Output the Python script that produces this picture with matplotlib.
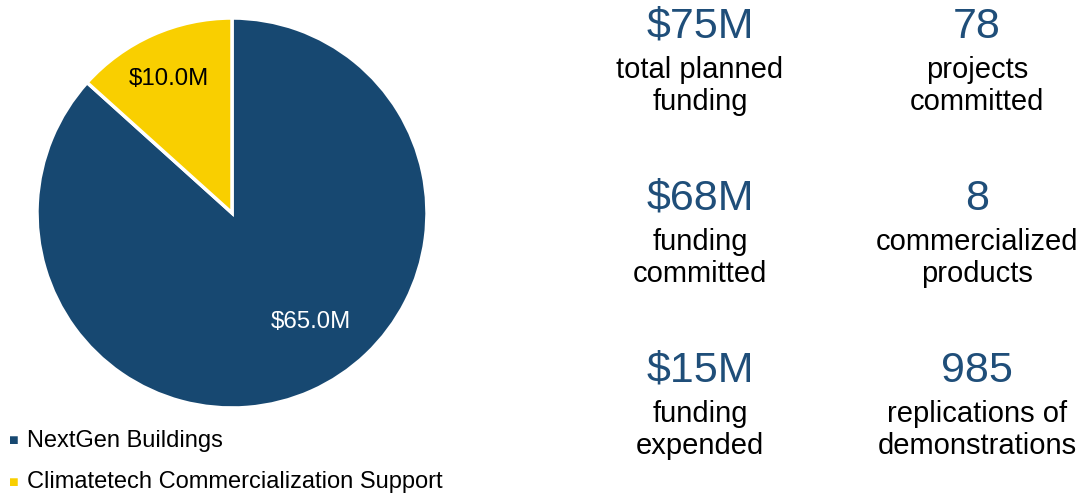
import matplotlib.pyplot as plt
import numpy as np

plt.rcParams['font.family'] = ['Liberation Sans', 'DejaVu Sans']

programs = ['NextGen Buildings', 'Climatetech Commercialization Support']
funding = [65.0, 10.0]
colors = ['#174871', '#f9cf00']

stat_values = ['$75M', '78', '$68M', '8', '$15M', '985']
stat_labels = ['total planned\nfunding', 'projects\ncommitted',
               'funding\ncommitted', 'commercialized\nproducts',
               'funding\nexpended', 'replications of\ndemonstrations']

W, H = 1080, 493
fig = plt.figure(figsize=(W / 100, H / 100), dpi=100)

# pie, centred at (232, 213) px with radius ~195 px
cx, cy, r = 232, 213, 195
ax = fig.add_axes([(cx - r) / W, (H - cy - r) / H, 2 * r / W, 2 * r / H])
wedges, texts = ax.pie(funding, colors=colors, startangle=90, counterclock=False,
                       labels=[f'${v:.1f}M' for v in funding], labeldistance=0.7,
                       wedgeprops=dict(edgecolor='white', linewidth=2.5))
ax.set_xlim(-1.0, 1.0)
ax.set_ylim(-1.0, 1.0)
ax.set_aspect('equal')
ax.axis('off')
for w in wedges:
    w.set_clip_on(False)

# label placement inside each wedge
for w, t, dist, shift in zip(wedges, texts, [0.69, 0.76], [12, 1]):
    ang = np.deg2rad((w.theta1 + w.theta2) / 2 + shift)
    t.set_position((dist * np.cos(ang), dist * np.sin(ang)))
    t.set_ha('center')
    t.set_va('center')
    t.set_fontsize(17.3)
texts[0].set_color('white')
texts[1].set_color('black')

# legend
for i, (name, c) in enumerate(zip(programs, colors)):
    y = 1 - (441 + 41 * i) / H
    fig.text(14 / W, y, '\u25a0', color=c, fontsize=11.5, ha='center', va='center')
    fig.text(27 / W, y, name, fontsize=17, ha='left', va='center', color='black')

# key figures on the right
col_x = [700, 977]
row_y = [27, 199, 371]
for k, (val, lab) in enumerate(zip(stat_values, stat_labels)):
    x = col_x[k % 2] / W
    y0 = row_y[k // 2]
    fig.text(x, 1 - y0 / H, val, fontsize=31, color='#1f4e79',
             ha='center', va='center')
    fig.text(x, 1 - (y0 + 59) / H, lab, fontsize=21, color='black',
             ha='center', va='center', linespacing=1.17)

fig.savefig('out.png', dpi=100)
